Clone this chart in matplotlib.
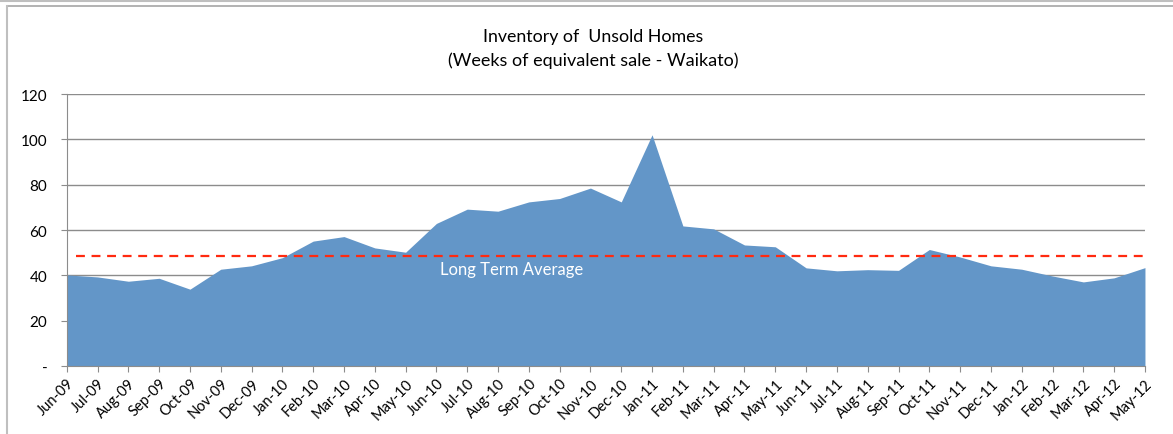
import matplotlib
matplotlib.use("Agg")
import matplotlib.pyplot as plt
from matplotlib.lines import Line2D

plt.rcParams['font.family'] = ['Lato', 'DejaVu Sans']

months = ['Jun-09', 'Jul-09', 'Aug-09', 'Sep-09', 'Oct-09', 'Nov-09', 'Dec-09',
          'Jan-10', 'Feb-10', 'Mar-10', 'Apr-10', 'May-10', 'Jun-10', 'Jul-10',
          'Aug-10', 'Sep-10', 'Oct-10', 'Nov-10', 'Dec-10', 'Jan-11', 'Feb-11',
          'Mar-11', 'Apr-11', 'May-11', 'Jun-11', 'Jul-11', 'Aug-11', 'Sep-11',
          'Oct-11', 'Nov-11', 'Dec-11', 'Jan-12', 'Feb-12', 'Mar-12', 'Apr-12',
          'May-12']
weeks = [40.2, 39.3, 37.4, 38.7, 33.9, 42.7, 44.2, 47.8, 55.1, 57.1, 52.1, 50.2,
         62.9, 69.2, 68.3, 72.4, 73.9, 78.5, 72.4, 102.0, 61.8, 60.5, 53.4, 52.6,
         43.3, 42.0, 42.5, 42.2, 51.4, 48.1, 44.2, 42.7, 39.7, 37.1, 38.9, 43.4]
long_term_avg = 48.6

yticks = [0, 20, 40, 60, 80, 100, 120]
ylabels = ['-', '20', '40', '60', '80', '100', '120']

fig = plt.figure(figsize=(11.73, 4.35), dpi=100)
ax = fig.add_axes([0.0569, 0.1563, 0.9192, 0.6253])

x = list(range(len(months)))
ax.fill_between(x, weeks, 0, color='#6396C8', linewidth=0, zorder=2)
ax.axhline(long_term_avg, xmin=0.009, xmax=1.0, color='#FF2A10', linestyle=(0, (4, 3)),
           linewidth=1.6, zorder=3)
ax.text(12.1, 42.7, 'Long Term Average', color='white', fontsize=12, va='center',
        ha='left', zorder=4)

ax.set_xlim(0, len(months) - 1)
ax.set_ylim(0, 120)
ax.set_yticks(yticks)
ax.set_yticklabels(ylabels)
ax.set_xticks(x)
ax.set_xticklabels(months, rotation=45, ha='right', rotation_mode='anchor')
ax.grid(axis='y', color='#8C8C8C', linewidth=1, zorder=1)
ax.set_axisbelow(True)
for s in ['top', 'right']:
    ax.spines[s].set_visible(False)
for s in ['left', 'bottom']:
    ax.spines[s].set_color('#8C8C8C')
ax.tick_params(axis='both', colors='#8C8C8C', labelcolor='black', labelsize=10.5,
               length=4)
ax.tick_params(axis='y', pad=10, labelsize=11)
ax.tick_params(axis='x', pad=3)

fig.text(593 / 1173, 1 - 37 / 435, 'Inventory of  Unsold Homes', ha='center',
         va='center', fontsize=12.8)
fig.text(593 / 1173, 1 - 61 / 435, '(Weeks of equivalent sale - Waikato)', ha='center',
         va='center', fontsize=13)

# outer chart frame
fig.add_artist(Line2D([0, 1], [1 - 1.5 / 435, 1 - 1.5 / 435], color='#BFBFBF', lw=1.5))
fig.add_artist(Line2D([7 / 1173, 1], [1 - 7 / 435, 1 - 7 / 435], color='#A6A6A6', lw=1.2))
fig.add_artist(Line2D([7 / 1173, 7 / 1173], [0, 1 - 7 / 435], color='#BFBFBF', lw=1.5))

fig.savefig('out.png', dpi=100)
